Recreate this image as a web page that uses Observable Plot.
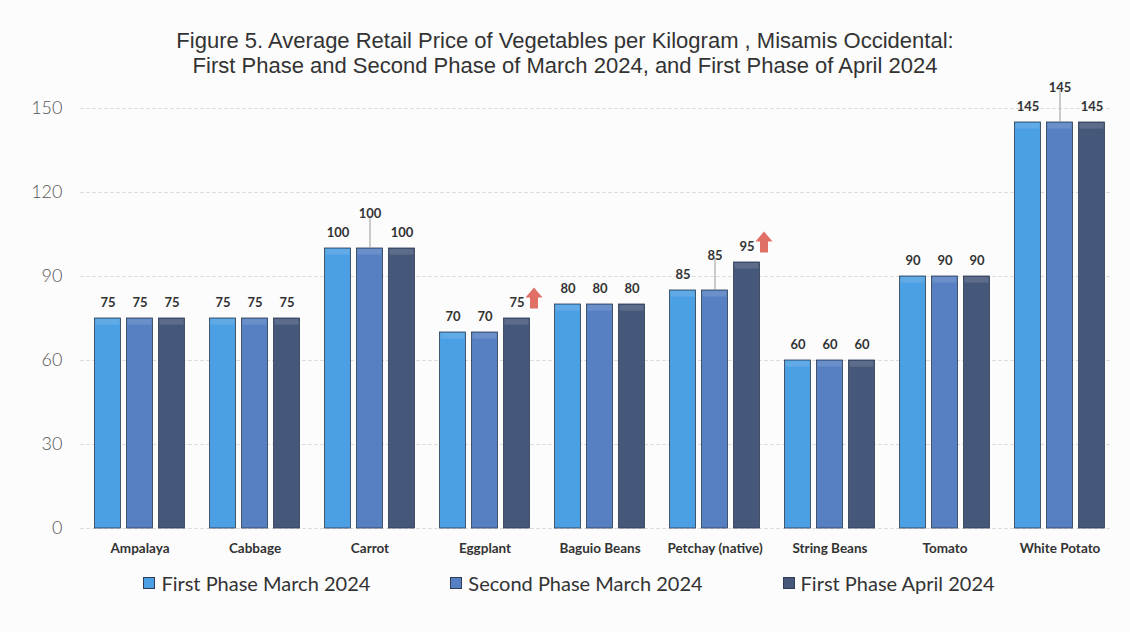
<!DOCTYPE html>
<html>
<head>
<meta charset="utf-8">
<script src="https://cdn.jsdelivr.net/npm/d3@7"></script>
<script src="https://cdn.jsdelivr.net/npm/@observablehq/plot@0.6"></script>
<style>
  html, body { margin: 0; padding: 0; background: #fcfcfc; }
  #wrap { width: 1130px; height: 632px; position: relative; overflow: hidden; }
  #title { height: 75px; box-sizing: border-box; padding-top: 28px; text-align: center;
    font-family: "Liberation Sans Narrow", "Arial Narrow", "Liberation Sans", sans-serif;
    font-size: 22px; line-height: 25px; color: #333; }
  #title div { white-space: nowrap; }
  #legend { display: flex; justify-content: center; gap: 80px; padding-left: 8px; margin-top: 8px;
    font-family: Lato, "Open Sans", sans-serif; font-size: 20px; color: #333; }
  #legend .item { display: flex; align-items: center; }
  #legend .sw { width: 12px; height: 12px; margin-right: 6px; border: 1px solid #2e3d55; box-sizing: border-box; }
</style>
</head>
<body>
<div id="wrap">
  <div id="title"><div>Figure 5. Average Retail Price of Vegetables per Kilogram , Misamis Occidental:</div><div>First Phase and Second Phase of March 2024, and First Phase of April 2024</div></div>
  <div id="chart"></div>
  <div id="legend"></div>
</div>
<script>
const categories = ["Ampalaya", "Cabbage", "Carrot", "Eggplant", "Baguio Beans", "Petchay (native)", "String Beans", "Tomato", "White Potato"];
const seriesNames = ["First Phase March 2024", "Second Phase March 2024", "First Phase April 2024"];
const firstPhaseMarch = [75, 75, 100, 70, 80, 85, 60, 90, 145];
const secondPhaseMarch = [75, 75, 100, 70, 80, 85, 60, 90, 145];
const firstPhaseApril = [75, 75, 100, 75, 80, 95, 60, 90, 145];
const yTicks = [0, 30, 60, 90, 120, 150];
const increased = ["Eggplant", "Petchay (native)"];
const raisedLabels = ["Carrot", "Petchay (native)", "White Potato"];

const colors = ["#4b9fe3", "#5680c2", "#46587a"];
const seriesValues = [firstPhaseMarch, secondPhaseMarch, firstPhaseApril];
const rows = [];
seriesValues.forEach((vals, s) => vals.forEach((v, i) => rows.push({category: categories[i], series: seriesNames[s], s, value: v})));

const offsets = [-32, 0, 32];
const labelFont = {fontFamily: "Lato, 'Open Sans', sans-serif", fontWeight: "bold", fontSize: 13, fill: "#333"};

const arrowSymbol = {
  draw(ctx) {
    ctx.moveTo(-4, 0); ctx.lineTo(4, 0); ctx.lineTo(4, -11); ctx.lineTo(8.5, -11);
    ctx.lineTo(0, -21); ctx.lineTo(-8.5, -11); ctx.lineTo(-4, -11); ctx.closePath();
  }
};

const marks = [
  Plot.gridY(yTicks, {stroke: "#bbb", strokeOpacity: 0.5, strokeDasharray: "4,2"}),
  Plot.axisY(yTicks, {tickSize: 0, tickPadding: 18, fontSize: 18, fill: "#555", label: null,
    fontFamily: "Lato, 'Open Sans', sans-serif", fontWeight: 300}),
  Plot.axisX({tickSize: 0, tickPadding: 15, label: null, fontFamily: "Lato, 'Open Sans', sans-serif",
    fontWeight: "bold", fontSize: 13.5, fill: "#333"})
];

seriesNames.forEach((name, s) => {
  const data = rows.filter(d => d.s === s);
  marks.push(Plot.barY(data, {x: "category", y: "value", fill: colors[s], stroke: "#2c3a50", strokeWidth: 0.8,
    dx: offsets[s], insetLeft: 44.5, insetRight: 44.5}));
  marks.push(Plot.barY(data, {x: "category", y1: "value", y2: d => d.value - 2, fill: "#ffffff", fillOpacity: 0.12,
    dx: offsets[s], insetLeft: 45.5, insetRight: 45.5, dy: 1}));
  const normal = data.filter(d => !(s === 1 && raisedLabels.includes(d.category)));
  marks.push(Plot.text(normal, {x: "category", y: "value", text: "value", dx: offsets[s], dy: -16, ...labelFont}));
  const raised = data.filter(d => s === 1 && raisedLabels.includes(d.category));
  if (raised.length) {
    marks.push(Plot.ruleX(raised, {x: "category", y1: "value", y2: d => d.value + 11.5, stroke: "#999", strokeWidth: 1}));
    marks.push(Plot.text(raised, {x: "category", y: "value", text: "value", dy: -35, ...labelFont}));
  }
});

marks.push(Plot.dot(rows.filter(d => d.s === 2 && increased.includes(d.category)),
  {x: "category", y: "value", dx: 49, dy: -10, symbol: arrowSymbol, r: 5, fill: "#e07066", stroke: "none"}));

const chart = Plot.plot({
  width: 1130,
  height: 488,
  marginTop: 33,
  marginBottom: 35,
  marginLeft: 80,
  marginRight: 20,
  style: {background: "transparent", overflow: "visible"},
  x: {domain: categories, range: [78, 1121], padding: 0},
  y: {domain: [0, 150], ticks: yTicks},
  marks
});
document.getElementById("chart").appendChild(chart);

const legend = document.getElementById("legend");
seriesNames.forEach((name, s) => {
  const it = document.createElement("div");
  it.className = "item";
  const sw = document.createElement("span");
  sw.className = "sw";
  sw.style.background = colors[s];
  const t = document.createElement("span");
  t.textContent = name;
  it.appendChild(sw); it.appendChild(t);
  legend.appendChild(it);
});
</script>
</body>
</html>
